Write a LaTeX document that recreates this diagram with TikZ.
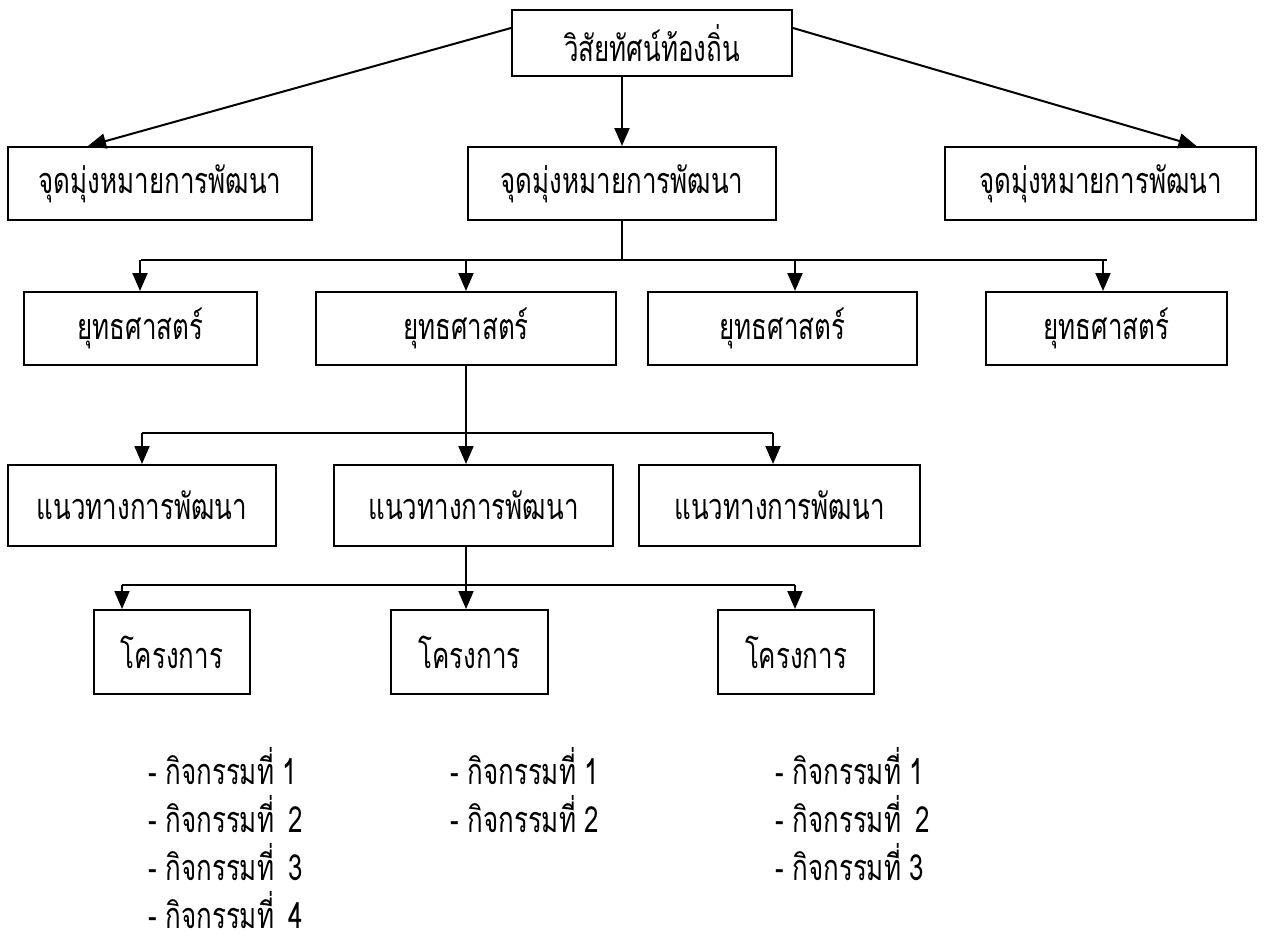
\documentclass[tikz,border=0pt]{standalone}
\usepackage{fontspec}
\newfontfamily\thaifont[Script=Thai,FakeStretch=0.72]{Loma}
\usetikzlibrary{arrows.meta}

\begin{document}
\begin{tikzpicture}[x=1pt,y=-1pt]
    \tikzset{box/.style = {shape=rectangle, draw, line width=2pt, minimum height=73pt, inner sep=0pt, font=\thaifont\fontsize{36}{42}\selectfont}}
    \tikzset{link/.style = {draw, line width=2pt}}
    \tikzset{arr/.style = {link, -{Triangle[length=18pt,width=15pt]}}}
    \tikzset{item/.style = {anchor=west, inner sep=0pt, font=\thaifont\fontsize{36}{42}\selectfont}}

    \useasboundingbox (0,0) rectangle (1264,943);

    % boxes
    \node[box, minimum width=280pt, minimum height=66pt] (vision) at (652,43) {วิสัยทัศน์ท้องถิ่น};

    \node[box, minimum width=304pt] (g1) at (160,183.5) {จุดมุ่งหมายการพัฒนา};
    \node[box, minimum width=308pt] (g2) at (622,183.5) {จุดมุ่งหมายการพัฒนา};
    \node[box, minimum width=311pt] (g3) at (1100.5,183.5) {จุดมุ่งหมายการพัฒนา};

    \node[box, minimum width=233pt] (s1) at (140.5,328.5) {ยุทธศาสตร์};
    \node[box, minimum width=300pt] (s2) at (466,328.5) {ยุทธศาสตร์};
    \node[box, minimum width=269pt] (s3) at (782.5,328.5) {ยุทธศาสตร์};
    \node[box, minimum width=241pt] (s4) at (1106.5,328.5) {ยุทธศาสตร์};

    \node[box, minimum width=268pt, minimum height=81pt] (w1) at (142,505.5) {แนวทางการพัฒนา};
    \node[box, minimum width=279pt, minimum height=81pt] (w2) at (473.5,505.5) {แนวทางการพัฒนา};
    \node[box, minimum width=281pt, minimum height=81pt] (w3) at (779.5,505.5) {แนวทางการพัฒนา};

    \node[box, minimum width=156pt, minimum height=84pt] (p1) at (172,652) {โครงการ};
    \node[box, minimum width=157pt, minimum height=84pt] (p2) at (469.5,652) {โครงการ};
    \node[box, minimum width=156pt, minimum height=84pt] (p3) at (796,652) {โครงการ};

    % activities
    \foreach \t [count=\i] in {1, \,2, \,3, \,4}
        \node[item] (aL\i) at (148,{766+48*(\i-1)}) {- กิจกรรมที่ \t};
    \foreach \t [count=\i] in {1, 2}
        \node[item] (aM\i) at (450,{766+48*(\i-1)}) {- กิจกรรมที่ \t};
    \foreach \t [count=\i] in {1, \,2, 3}
        \node[item] (aR\i) at (775,{766+48*(\i-1)}) {- กิจกรรมที่ \t};

    % junctions
    \coordinate (j1) at (622,260);
    \coordinate (j2) at (466,433);
    \coordinate (j3) at (466,585);

    % edges
    \draw[arr] ([yshift=15pt]vision.west) -- ([xshift=-72pt]g1.north);
    \draw[arr] ([yshift=15pt]vision.east) -- ([xshift=96pt]g3.north);
    \draw[arr] (vision.south -| g2.north) -- (g2.north);

    \draw[link] (g2.south) -- (j1);
    \draw[link] (s1.north |- j1) -- (s4.north |- j1);
    \foreach \n/\x in {s1/140, s2/466, s3/795, s4/1103}
        \draw[arr] (\x,260) -- (\n.north -| \x,260);

    \draw[link] (s2.south -| j2) -- (j2);
    \draw[link] (142,433) -- (773,433);
    \foreach \n/\x in {w1/142, w2/466, w3/773}
        \draw[arr] (\x,433) -- (\n.north -| \x,433);

    \draw[link] (w2.south -| j3) -- (j3);
    \draw[link] (122,585) -- (795,585);
    \foreach \n/\x in {p1/122, p2/466, p3/795}
        \draw[arr] (\x,585) -- (\n.north -| \x,585);
\end{tikzpicture}
\end{document}
